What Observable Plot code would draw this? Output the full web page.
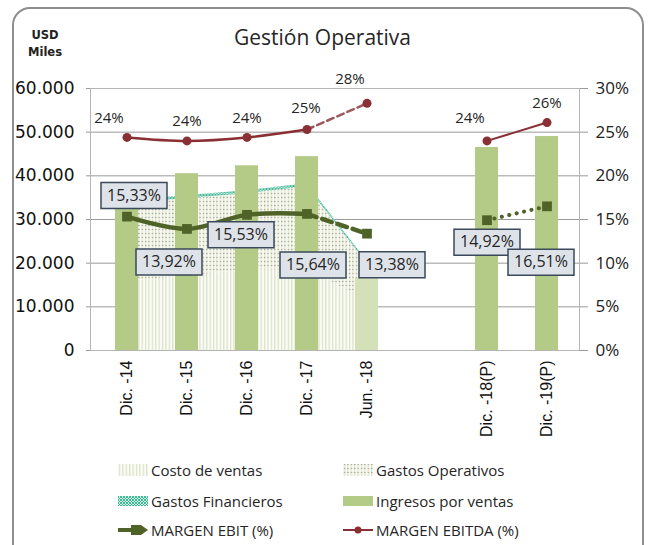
<!DOCTYPE html>
<html><head><meta charset="utf-8">
<script src="https://cdn.jsdelivr.net/npm/d3@7"></script>
<script src="https://cdn.jsdelivr.net/npm/@observablehq/plot@0.6"></script>
<style>
html,body{margin:0;padding:0;background:#fff;width:652px;height:545px;overflow:hidden;position:relative;}
#frame{position:absolute;left:12px;top:7px;width:632px;height:620px;border:2px solid #8e8e8e;border-radius:18px;box-sizing:border-box;}
#title{position:absolute;left:0;width:645px;top:23px;text-align:center;font:21px "Open Sans";color:#262626;line-height:28px;}
#unit{position:absolute;left:27px;top:27px;width:36px;font:bold 11.5px "DejaVu Sans";color:#222;line-height:17px;text-align:center;}
#chart{position:absolute;left:0;top:60px;}
.leg{position:absolute;font:15px "Open Sans";color:#262626;display:flex;align-items:center;white-space:nowrap;height:20px;}
.leg svg{margin-right:2px;display:block}
</style></head><body>
<div id="frame"></div>
<div id="title">Gestión Operativa</div>
<div id="unit">USD<br>Miles</div>
<div id="chart"></div>
<div id="legend"></div>
<script>
// ---------- data ----------
const categories = ["Dic. -14","Dic. -15","Dic. -16","Dic. -17","Jun. -18","Dic. -18(P)","Dic. -19(P)"];
const ingresosVentas   = [36000, 40500, 42300, 44400, 16500, 46500, 49000];
const costoVentas      = [16000, 17000, 18500, 18500, 11500];
const gastosOperativos = [17600, 17800, 17400, 19000, 8500];
const gastosFinancieros= [700, 700, 700, 700, 500];
const margenEbit       = [15.33, 13.92, 15.53, 15.64, 13.38, 14.92, 16.51];
const margenEbitda     = [24.4, 24.0, 24.4, 25.3, 28.3, 24.0, 26.1];
const leftTicks  = [0, 10000, 20000, 30000, 40000, 50000, 60000];
const rightTicks = [0, 5, 10, 15, 20, 25, 30];
const areaNames = ["Costo de ventas", "Gastos Operativos", "Gastos Financieros"];

// ---------- layout (label offsets, px) ----------
const ebitdaDx = [-18, 0, 0, -1, -17, -17, 0];
const ebitdaDy = [-19, -20, -19, -21, -24, -23, -19];
const ebitDx = [7, -18, -6, 6, 25, 0, -6];
const ebitDy = [-21, 33, 20, 51, 31, 22, 56];

const PCT = 2000; // 30% <-> 60.000
const xDomain = [...categories.slice(0, 5), "", ...categories.slice(5)];
const loc = d3.formatLocale({decimal: ",", thousands: ".", grouping: [3], currency: ["", ""]});
const fmtN = loc.format(",");
const fmtP = loc.format(".2f");

const bars = categories.map((c, i) => ({cat: c, v: ingresosVentas[i]}));
const areaData = [costoVentas, gastosOperativos, gastosFinancieros].flatMap((vals, k) =>
  vals.map((v, i) => ({cat: categories[i], serie: areaNames[k], v})));
const ebit = categories.map((c, i) => ({cat: c, i, v: margenEbit[i] * PCT, p: margenEbit[i]}));
const ebitda = categories.map((c, i) => ({cat: c, i, v: margenEbitda[i] * PCT, p: margenEbitda[i]}));

const GREEN = "#4f6228", RED = "#8a3034";
const boxSymbol = {draw(ctx) { ctx.rect(-33, -13, 66, 26); }};

const marks = [
  Plot.gridY(leftTicks, {stroke: "#9a9a9a", strokeOpacity: 1, strokeWidth: 1}),
  Plot.areaY(areaData, {x: "cat", y: "v", z: "serie", fill: "serie", order: null}),
  Plot.barY(bars, {x: "cat", y: "v", fill: d => d.cat.startsWith("Jun") ? "#d4e1b8" : "#b4cb88"}),
  Plot.frame({stroke: "#b5b5b5"}),
  Plot.axisY(leftTicks, {anchor: "left", label: null, tickSize: 4, tickPadding: 12, tickFormat: fmtN, fontSize: 17, fontFamily: "DejaVu Sans", fill: "#111", stroke: "#9a9a9a"}),
  Plot.axisY(leftTicks, {anchor: "right", label: null, tickSize: 8, tickPadding: 8, tickFormat: d => (d / PCT) + "%", fontSize: 17, fontFamily: "Open Sans", fill: "#222", stroke: "#9a9a9a"}),
  Plot.axisX({anchor: "bottom", label: null, tickSize: 0, tickPadding: 10, tickRotate: -90, fontSize: 16, fontFamily: "Liberation Sans", fill: "#111"}),
  // EBITDA
  Plot.line(ebitda.slice(0, 4), {x: "cat", y: "v", stroke: RED, strokeWidth: 2.5, curve: "catmull-rom"}),
  Plot.line(ebitda.slice(3, 5), {x: "cat", y: "v", stroke: "#9c5a5e", strokeWidth: 2.5, strokeDasharray: "7,4"}),
  Plot.line(ebitda.slice(5, 7), {x: "cat", y: "v", stroke: RED, strokeWidth: 2}),
  Plot.dot(ebitda, {x: "cat", y: "v", r: 4.5, fill: RED}),
  // EBIT
  Plot.line(ebit.slice(0, 4), {x: "cat", y: "v", stroke: GREEN, strokeWidth: 4.5, curve: "catmull-rom"}),
  Plot.line(ebit.slice(3, 5), {x: "cat", y: "v", stroke: GREEN, strokeWidth: 4.5, strokeDasharray: "10,6"}),
  Plot.line(ebit.slice(5, 7), {x: "cat", y: "v", stroke: GREEN, strokeWidth: 4, strokeDasharray: "0.1,7.5", strokeLinecap: "round"}),
  Plot.dot(ebit, {x: "cat", y: "v", symbol: "square", r: 5.5, fill: GREEN}),
  ...ebitda.map((d, i) => Plot.text([d], {x: "cat", y: "v", text: d => Math.round(d.p) + "%", dx: ebitdaDx[i], dy: ebitdaDy[i], fontSize: 15, fontFamily: "Open Sans", fill: "#262626"})),
  ...ebit.map((d, i) => Plot.dot([d], {x: "cat", y: "v", symbol: boxSymbol, fill: "#dee3ea", stroke: "#3b495b", strokeWidth: 1.5, dx: ebitDx[i], dy: ebitDy[i]})),
  ...ebit.map((d, i) => Plot.text([d], {x: "cat", y: "v", text: d => fmtP(d.p) + "%", dx: ebitDx[i], dy: ebitDy[i], fontSize: 16, fontFamily: "Open Sans", fill: "#262626"}))
];

const chart = Plot.plot({
  width: 652, height: 390,
  marginLeft: 90, marginRight: 73, marginTop: 28, marginBottom: 100,
  style: {background: "transparent", fontFamily: "Open Sans", overflow: "visible"},
  x: {type: "band", domain: xDomain, range: [93, 579], paddingInner: 0.62, paddingOuter: 0.31, axis: null, label: null},
  y: {domain: [0, 60000], axis: null, label: null},
  color: {domain: areaNames, range: ["url(#pCosto)", "url(#pOper)", "url(#pFin)"]},
  marks
});
document.getElementById("chart").appendChild(chart);

// pattern definitions (used by the stacked area and legend swatches)
const defs = d3.select(chart).insert("defs", ":first-child");
const p1 = defs.append("pattern").attr("id", "pCosto").attr("patternUnits", "userSpaceOnUse").attr("width", 3.4).attr("height", 4);
p1.append("rect").attr("width", 3.4).attr("height", 4).attr("fill", "#fbfcf6");
p1.append("rect").attr("x", 1).attr("width", 1).attr("height", 4).attr("fill", "#d3dcbf");
const p2 = defs.append("pattern").attr("id", "pOper").attr("patternUnits", "userSpaceOnUse").attr("width", 3.4).attr("height", 4);
p2.append("rect").attr("width", 3.4).attr("height", 4).attr("fill", "#f8f9f1");
p2.append("rect").attr("x", 1).attr("width", 1).attr("height", 4).attr("fill", "#e0e5d2");
p2.append("circle").attr("cx", 1.5).attr("cy", 1.5).attr("r", 0.8).attr("fill", "#a5aa90");
const p3 = defs.append("pattern").attr("id", "pFin").attr("patternUnits", "userSpaceOnUse").attr("width", 3).attr("height", 3);
p3.append("rect").attr("width", 3).attr("height", 3).attr("fill", "#cdeee2");
p3.append("path").attr("d", "M0,0L3,3M3,0L0,3").attr("stroke", "#35b08f").attr("stroke-width", 0.9);

// legend
const legendItems = [
  {label: "Costo de ventas", x: 118, y: 460, sw: `<rect width="30" height="12" y="1" fill="url(#pCosto)"/>`},
  {label: "Gastos Operativos", x: 343, y: 460, sw: `<rect width="30" height="12" y="1" fill="url(#pOper)"/>`},
  {label: "Gastos Financieros", x: 118, y: 491, sw: `<rect width="30" height="10" y="2" fill="url(#pFin)"/>`},
  {label: "Ingresos por ventas", x: 343, y: 491, sw: `<rect width="30" height="10" y="2" fill="#b4cb88"/>`},
  {label: "MARGEN EBIT (%)", x: 118, y: 520, sw: `<line x1="0" x2="16" y1="7" y2="7" stroke="${GREEN}" stroke-width="4"/><rect x="13" y="2" width="10" height="10" fill="${GREEN}"/><path d="M23,2L30,7L23,12Z" fill="${GREEN}"/>`},
  {label: "MARGEN EBITDA (%)", x: 343, y: 520, sw: `<line x1="0" x2="30" y1="7" y2="7" stroke="${RED}" stroke-width="2"/><circle cx="15" cy="7" r="3.5" fill="${RED}"/>`}
];
const leg = document.getElementById("legend");
for (const it of legendItems) {
  const div = document.createElement("div");
  div.className = "leg";
  div.style.left = it.x + "px";
  div.style.top = it.y + "px";
  div.innerHTML = `<svg width="31" height="14">${it.sw}</svg><span>${it.label}</span>`;
  leg.appendChild(div);
}
</script>
</body></html>
